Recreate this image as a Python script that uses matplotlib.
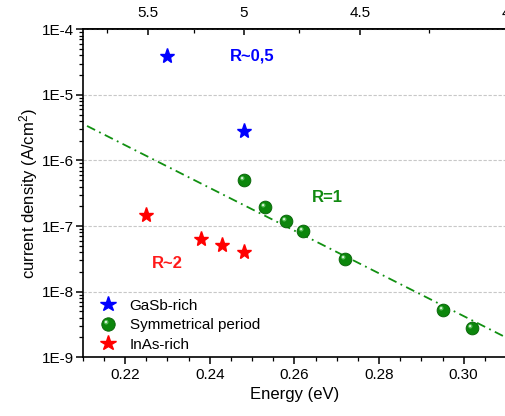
import numpy as np
import matplotlib
matplotlib.use("Agg")
import matplotlib.pyplot as plt
from matplotlib.ticker import MultipleLocator, LogLocator, NullFormatter, FuncFormatter, FormatStrFormatter
from matplotlib.path import Path
from matplotlib.legend_handler import HandlerTuple

plt.rcParams['font.family'] = ['Liberation Sans', 'DejaVu Sans']
plt.rcParams['mathtext.default'] = 'regular'

# ---- data ----
gasb_E = [0.230, 0.248]
gasb_J = [3.9e-5, 2.8e-6]

sym_E = [0.248, 0.253, 0.258, 0.262, 0.272, 0.295, 0.302]
sym_J = [5.0e-7, 1.97e-7, 1.18e-7, 8.5e-8, 3.18e-8, 5.2e-9, 2.8e-9]

inas_E = [0.225, 0.238, 0.243, 0.248]
inas_J = [1.49e-7, 6.4e-8, 5.1e-8, 4.0e-8]

fit_E = [0.211, 0.310]
fit_J = [3.36e-6, 2.0e-9]

legend_labels = ["GaSb-rich", "Symmetrical period", "InAs-rich"]
xlabel = "Energy (eV)"
ylabel = "current density (A/cm$^2$)"

W, H = 506, 416
fig = plt.figure(figsize=(W / 100, H / 100), dpi=100)
x0, x1, ytop, ybot = 82.8, 506.0, 29.3, 357.2
ax = fig.add_axes([x0 / W, (H - ybot) / H, (x1 - x0) / W, (ybot - ytop) / H])

ax.set_xscale('linear')
ax.set_yscale('log')
ax.set_xlim(0.21, 0.31)
ax.set_ylim(1e-9, 1e-4)

# grid
ax.yaxis.grid(True, which='major', color='#c8c8c8', linestyle=(0, (3, 1.5)), linewidth=0.8)
ax.set_axisbelow(True)

# fit line
ax.plot(fit_E, fit_J, color='#119011', lw=1.3, dashes=(5, 2.5, 1, 2.5), zorder=2)

# stars
star_blue, = ax.plot(gasb_E, gasb_J, ls='none', marker='*', ms=11, color='#0000ff', mec='#0000ff', zorder=4)
star_red, = ax.plot(inas_E, inas_J, ls='none', marker='*', ms=11, color='#ff0000', mec='#ff0000', zorder=4)

# spheres (base + highlight)
def circle_marker(cx, cy, r):
    t = np.linspace(0, 2 * np.pi, 40)
    verts = [(-0.5, -0.5)] + list(zip(cx + r * np.cos(t), cy + r * np.sin(t)))
    codes = [Path.MOVETO, Path.MOVETO] + [Path.LINETO] * 38 + [Path.CLOSEPOLY]
    return Path(verts, codes)

hl1 = circle_marker(-0.17, 0.17, 0.17)
hl2 = circle_marker(-0.19, 0.19, 0.08)
ms_sph = 9.2
g_base, = ax.plot(sym_E, sym_J, ls='none', marker='o', ms=ms_sph, color='#0c860c', mec='#056005', mew=0.6, zorder=5)
g_hl1, = ax.plot(sym_E, sym_J, ls='none', marker=hl1, ms=ms_sph, color='#5cbf5c', mec='none', zorder=6)
g_hl2, = ax.plot(sym_E, sym_J, ls='none', marker=hl2, ms=ms_sph, color='#e8f8e8', mec='none', zorder=7)

# annotations
ax.text(0.2448, 3.9e-5, "R~0,5", color='#0000ff', fontsize=12, fontweight='bold', ha='left', va='center')
ax.text(0.2677, 2.68e-7, "R=1", color='#118a11', fontsize=12, fontweight='bold', ha='center', va='center')
ax.text(0.2263, 2.73e-8, "R~2", color='#ff1a1a', fontsize=12, fontweight='bold', ha='left', va='center')

# axes styling
for s in ['left', 'bottom', 'top']:
    ax.spines[s].set_linewidth(1.2)
ax.spines['right'].set_visible(False)

ax.xaxis.set_major_locator(MultipleLocator(0.02))
ax.xaxis.set_minor_locator(MultipleLocator(0.005))
ax.xaxis.set_major_formatter(FormatStrFormatter('%.2f'))
ax.yaxis.set_major_locator(LogLocator(base=10, numticks=10))
ax.yaxis.set_minor_locator(LogLocator(base=10, subs=np.arange(2, 10), numticks=20))
ax.yaxis.set_minor_formatter(NullFormatter())
ax.yaxis.set_major_formatter(FuncFormatter(lambda v, p: "1E%d" % int(round(np.log10(v)))))

ax.tick_params(axis='both', which='major', direction='out', length=5, width=1.1, labelsize=11, pad=2.5)
ax.tick_params(axis='both', which='minor', direction='out', length=2.6, width=0.9)
ax.tick_params(axis='y', which='major', pad=1.5)
ax.tick_params(top=False, right=False, which='both')

ax.set_xlabel(xlabel, fontsize=12, labelpad=4)
ax.set_ylabel(ylabel, fontsize=12, labelpad=1)

# top axis: wavelength (um) = 1.24 / E
def e2l(e):
    e = np.asarray(e, dtype=float)
    with np.errstate(divide='ignore', invalid='ignore'):
        return np.where(e != 0, 1.24 / e, np.inf)

sec = ax.secondary_xaxis('top', functions=(e2l, e2l))
sec.xaxis.set_major_locator(MultipleLocator(0.5))
sec.xaxis.set_minor_locator(MultipleLocator(0.25))
sec.xaxis.set_major_formatter(FormatStrFormatter('%g'))
sec.tick_params(axis='x', which='major', direction='in', length=4, width=1.1, labelsize=11, pad=6.5)
sec.tick_params(axis='x', which='minor', direction='in', length=2.6, width=0.9)
sec.spines['top'].set_linewidth(1.2)

# legend
leg = ax.legend([star_blue, (g_base, g_hl1, g_hl2), star_red], legend_labels,
                handler_map={tuple: HandlerTuple(ndivide=1, pad=0)},
                loc='upper left', bbox_to_anchor=(0.042, 0.178), borderaxespad=0, borderpad=0,
                frameon=False, fontsize=11, handlelength=1.0, handletextpad=0.9,
                labelspacing=0.36, markerscale=1.05)

fig.savefig("out.png", dpi=100)
